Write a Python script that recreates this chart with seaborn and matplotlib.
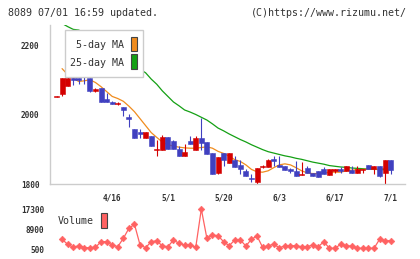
import numpy as np
import pandas as pd
import matplotlib
matplotlib.use("Agg")
import matplotlib.pyplot as plt
from matplotlib.patches import Rectangle
import seaborn as sns

# ---- data (61 trading days, last = 07/01) ----
opens = [2049, 2060, 2081, 2104, 2106, 2124, 2104, 2069, 2075, 2046,
         2037, 2029, 2023, 1994, 1957, 1951, 1931, 1937, 1898, 1899,
         1934, 1925, 1902, 1882, 1925, 1899, 1931, 1922, 1888, 1833,
         1888, 1859, 1870, 1856, 1836, 1818, 1807, 1850, 1850, 1873,
         1856, 1853, 1842, 1836, 1827, 1847, 1833, 1836, 1842, 1827,
         1836, 1842, 1836, 1839, 1833, 1839, 1856, 1844, 1853, 1833,
         1870]
highs = [2052, 2104, 2124, 2104, 2106, 2124, 2104, 2075, 2075, 2063,
         2040, 2037, 2023, 2001, 1957, 1957, 1951, 1937, 1928, 1940,
         1934, 1928, 1908, 1914, 1937, 1937, 1991, 1922, 1888, 1879,
         1888, 1888, 1882, 1870, 1844, 1830, 1847, 1856, 1872, 1882,
         1882, 1853, 1847, 1865, 1862, 1853, 1833, 1836, 1850, 1842,
         1842, 1850, 1853, 1853, 1853, 1844, 1856, 1853, 1853, 1868,
         1870]
lows = [2049, 2053, 2081, 2086, 2087, 2087, 2066, 2066, 2037, 2037,
        2030, 2026, 1997, 1963, 1931, 1931, 1931, 1908, 1880, 1899,
        1902, 1902, 1882, 1882, 1914, 1899, 1899, 1885, 1830, 1828,
        1853, 1859, 1850, 1830, 1824, 1807, 1798, 1847, 1850, 1853,
        1850, 1839, 1833, 1824, 1827, 1833, 1824, 1821, 1830, 1827,
        1833, 1833, 1836, 1833, 1833, 1833, 1844, 1830, 1821, 1798,
        1830]
closes = [2052, 2104, 2106, 2099, 2099, 2110, 2069, 2072, 2037, 2037,
          2030, 2032, 2014, 1986, 1931, 1945, 1951, 1908, 1901, 1934,
          1902, 1902, 1882, 1891, 1914, 1931, 1919, 1885, 1830, 1879,
          1868, 1888, 1850, 1844, 1824, 1813, 1847, 1853, 1870, 1867,
          1850, 1839, 1836, 1824, 1830, 1833, 1824, 1821, 1830, 1842,
          1842, 1836, 1853, 1833, 1842, 1844, 1844, 1853, 1824, 1868,
          1839]
ma5 = [None, 2132, 2115, 2104, 2095, 2097, 2100, 2092, 2080, 2066,
       2052, 2046, 2038, 2024, 2008, 1988, 1968, 1948, 1934, 1921,
       1913, 1909, 1906, 1904, 1903, 1903, 1905, 1907, 1903, 1894,
       1888, 1880, 1870, 1865, 1855, 1842, 1835, 1834, 1838, 1847,
       1855, 1858, 1855, 1847, 1838, 1832, 1830, 1830, 1831, 1834,
       1834, 1834, 1838, 1840, 1841, 1842, 1843, 1843, 1841, 1846,
       1846]
ma25 = [None, 2262, 2253, 2245, 2243, 2234, 2225, 2215, 2205, 2195,
        2185, 2173, 2162, 2150, 2140, 2130, 2120, 2102, 2087, 2068,
        2052, 2036, 2025, 2013, 2007, 2000, 1992, 1984, 1973, 1961,
        1953, 1944, 1936, 1928, 1921, 1913, 1906, 1899, 1893, 1889,
        1885, 1881, 1878, 1874, 1871, 1867, 1863, 1860, 1857, 1853,
        1851, 1849, 1848, 1846, 1845, 1844, 1843, 1842, 1842, 1841,
        1841]
volume = [None, 4700, 2600, 1340, 2000, 1170, 1170, 1340, 3700, 3700,
          2300, 1600, 5100, 9300, 11000, 2300, 1170, 3700, 4100, 1900,
          1600, 4400, 3000, 2300, 2300, 1340, 17400, 5100, 6500, 6200,
          3700, 2000, 4400, 4400, 1900, 4700, 6100, 1340, 2000, 2600,
          1170, 1900, 2000, 2000, 1600, 1600, 2300, 1600, 3700, 900,
          900, 2600, 1900, 1900, 900, 900, 900, 900, 4700, 4100,
          4100]
date_labels = ["4/16", "5/1", "5/20", "6/3", "6/17", "7/1"]
date_index = [10, 20, 30, 40, 50, 60]
price_ticks = [1800, 2000, 2200]
volume_ticks = [500, 8900, 17300]

UP = "#d40000"
DOWN = "#4040c0"
C_MA5 = "#f08c1e"
C_MA25 = "#14a014"
C_VOL = "#ff6262"
GRID = "#cccccc"
TXT = "#333333"

sns.set_style("white")
plt.rcParams["font.family"] = ["DejaVu Sans Mono"]

df = pd.DataFrame({"o": opens, "h": highs, "l": lows, "c": closes,
                   "ma5": ma5, "ma25": ma25, "vol": volume})
df["i"] = np.arange(len(df))
df[["ma5", "ma25", "vol"]] = df[["ma5", "ma25", "vol"]].astype(float)
colors = np.where(df["c"] >= df["o"], UP, DOWN)

W, H = 420, 259
fig = plt.figure(figsize=(W / 100, H / 100), dpi=100)
ax = fig.add_axes([50 / W, 75 / H, 355 / W, 159 / H])
vax = fig.add_axes([50 / W, 7 / H, 355 / W, 47 / H])

xlim = (-6.5 / 5.57, (405 - 56.5) / 5.57)

# --- moving averages ---
sns.lineplot(data=df, x="i", y="ma25", ax=ax, color=C_MA25, lw=0.9, zorder=1)
sns.lineplot(data=df, x="i", y="ma5", ax=ax, color=C_MA5, lw=0.9, zorder=1)

# --- candles ---
ax.vlines(df["i"], df["l"], df["h"], colors=colors, lw=0.8, zorder=2)
ax.bar(df["i"], (df["c"] - df["o"]).abs(), bottom=df[["o", "c"]].min(axis=1),
       width=0.9, color=colors, edgecolor=colors, lw=0.4, zorder=3)

ax.set_xlim(*xlim)
ax.set_ylim(1800, 1800 + 159 / 0.3475)
ax.set_xlabel("")
ax.set_ylabel("")
for s in ["top", "right"]:
    ax.spines[s].set_visible(False)
for s in ["left", "bottom"]:
    ax.spines[s].set_color(GRID)
    ax.spines[s].set_linewidth(1.0)
ax.set_yticks(price_ticks)
ax.set_yticklabels([str(v) for v in price_ticks], fontweight="bold")
ax.set_xticks(np.linspace(xlim[0], xlim[1], 12))
ax.set_xticklabels([])
ax.set_xticks(date_index, minor=True)
ax.set_xticklabels(date_labels, minor=True, fontweight="bold")
ax.tick_params(axis="both", which="major", direction="inout", length=7,
               width=1.0, color=GRID, labelsize=5.6, labelcolor=TXT, pad=4)
ax.tick_params(axis="x", which="minor", length=0, pad=6.5,
               labelsize=5.6, labelcolor=TXT)
ax.grid(False)

# --- legend box ---
tf = fig.transFigure
ax.add_patch(Rectangle((65 / W, 1 - 77 / H), 78 / W, 47 / H, transform=tf,
                       fc="white", ec=GRID, lw=1.0, zorder=10, clip_on=False))
ax.add_patch(Rectangle((131 / W, 1 - 51 / H), 6 / W, 14 / H, transform=tf,
                       fc=C_MA5, ec="#444444", lw=0.8, zorder=11, clip_on=False))
ax.add_patch(Rectangle((131 / W, 1 - 69 / H), 6 / W, 15 / H, transform=tf,
                       fc=C_MA25, ec="#444444", lw=0.8, zorder=11, clip_on=False))
fig.text(124 / W, 1 - 45 / H, "5-day MA", ha="right", va="center",
         fontsize=7.2, color=TXT, zorder=12)
fig.text(124 / W, 1 - 62.5 / H, "25-day MA", ha="right", va="center",
         fontsize=7.2, color=TXT, zorder=12)

# --- volume ---
sns.lineplot(data=df, x="i", y="vol", ax=vax, color=C_VOL, lw=0.9,
             marker="D", markersize=3.4, markeredgecolor=C_VOL, markeredgewidth=0.4)
vax.set_xlim(*xlim)
vax.set_ylim(500 - 2.7 * 420, 17300 + 4.3 * 420)
vax.set_xlabel("")
vax.set_ylabel("")
vax.set_xticks([])
vax.set_yticks(volume_ticks)
vax.set_yticklabels([str(v) for v in volume_ticks], fontweight="bold")
vax.tick_params(axis="y", length=0, pad=4.3, labelsize=5.6, labelcolor=TXT)
for s in vax.spines.values():
    s.set_visible(False)
vax.patch.set_alpha(0)
vax.grid(False)
vax.add_patch(Rectangle((101 / W, 1 - 228 / H), 6 / W, 15 / H, transform=tf,
                        fc=C_VOL, ec="#444444", lw=0.8, zorder=11, clip_on=False))
fig.text(58 / W, 1 - 221.5 / H, "Volume", ha="left", va="center",
         fontsize=7.2, color=TXT)

# --- header ---
fig.text(8 / W, 1 - 13 / H, "8089 07/01 16:59 updated.", ha="left",
         va="center", fontsize=7.2, color=TXT)
fig.text(251 / W, 1 - 13 / H, "(C)https://www.rizumu.net/", ha="left",
         va="center", fontsize=7.2, color=TXT)

fig.savefig("out.png", dpi=100)
